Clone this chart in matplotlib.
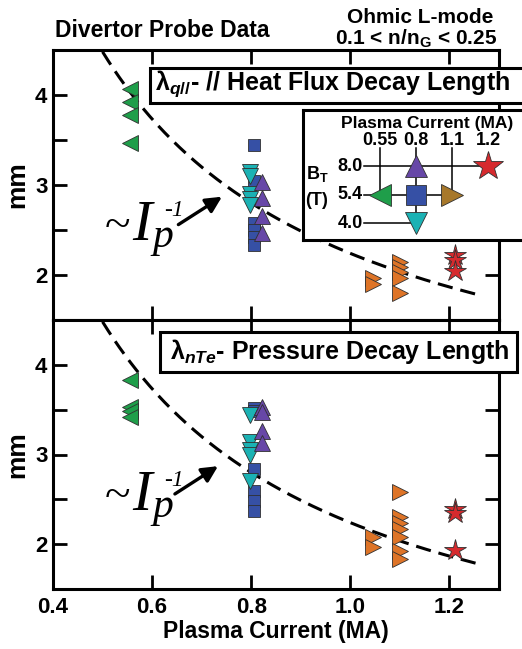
import numpy as np
import matplotlib
matplotlib.use("Agg")
import matplotlib.pyplot as plt
from matplotlib.patches import Rectangle

plt.rcParams['font.family'] = ['Liberation Sans', 'DejaVu Sans']
plt.rcParams['font.weight'] = 'bold'
plt.rcParams['axes.labelweight'] = 'bold'
plt.rcParams['mathtext.fontset'] = 'custom'
plt.rcParams['mathtext.rm'] = 'Liberation Sans:bold'
plt.rcParams['mathtext.it'] = 'Liberation Sans:italic:bold'
plt.rcParams['mathtext.bf'] = 'Liberation Sans:bold'

# plasma current of each group (MA)
ip_055 = 0.555
ip_08_sq = 0.806
ip_08_dn = 0.797
ip_08_up = 0.822
ip_105 = 1.045
ip_11 = 1.10
ip_12 = 1.212

# lambda_q// (mm)
q_green = [4.07, 3.92, 3.78, 3.47]
q_blue = [3.44, 3.04, 2.58, 2.50, 2.42, 2.33]
q_cyan = [3.15, 3.10, 2.90, 2.85, 2.78]
q_purple = [3.03, 2.86, 2.66, 2.47]
q_orange_a = [1.97, 1.90]
q_orange_b = [2.15, 2.09, 2.03, 1.97, 1.80]
q_red = [2.22, 2.17, 2.05]

# lambda_nTe (mm)
n_green = [3.83, 3.53, 3.48, 3.42]
n_blue = [3.52, 3.48, 2.84, 2.59, 2.48, 2.37]
n_cyan = [3.44, 3.14, 3.05, 3.00, 2.70]
n_purple = [3.53, 3.47, 3.26, 3.13]
n_orange_a = [2.08, 1.97]
n_orange_b = [2.58, 2.30, 2.24, 2.17, 2.08, 1.92, 1.83]
n_red = [2.39, 2.35, 1.94]

# ~1/Ip guide line
fit_coef = 2.24
fit_range = (0.50, 1.253)

# inset key
key_currents = ['0.55', '0.8', '1.1', '1.2']
key_fields = ['4.0', '5.4', '8.0']

GREEN = '#1F9E4A'
BLUE = '#3650A5'
CYAN = '#1BB2B4'
PURPLE = '#6747A7'
ORANGE = '#DE7427'
BROWN = '#A7782B'
RED = '#D62A2E'
EDGE = '#303030'

W, H = 522, 649
fig = plt.figure(figsize=(W / 100, H / 100), dpi=100)


def fx(px):
    return px / W


def fy(py):
    return 1 - py / H


ax1 = fig.add_axes([fx(53), fy(320), (499 - 53) / W, 270 / H])
ax2 = fig.add_axes([fx(53), fy(589), (499 - 53) / W, 269 / H])


def draw_panel(ax, green, blue, cyan, purple, orange_a, orange_b, red):
    xc = np.linspace(fit_range[0], fit_range[1], 200)
    ax.plot(xc, fit_coef / xc, color='k', lw=2.2, dashes=(5, 2.6), zorder=2)

    kw = dict(ls='none', mec=EDGE, mew=0.6, zorder=3)
    ax.plot([ip_055] * len(green), green, '<', ms=11, color=GREEN, **kw)
    ax.plot([ip_08_sq] * len(blue), blue, 's', ms=8, color=BLUE, **kw)
    ax.plot([ip_08_dn] * len(cyan), cyan, 'v', ms=11, color=CYAN, **kw)
    ax.plot([ip_08_up] * len(purple), purple, '^', ms=11, color=PURPLE, **kw)
    ax.plot([ip_105] * len(orange_a), orange_a, '>', ms=11, color=ORANGE, **kw)
    ax.plot([ip_11] * len(orange_b), orange_b, '>', ms=11, color=ORANGE, **kw)
    ax.plot([ip_12] * len(red), red, '*', ms=16, color=RED, **kw)

    ax.set_xlim(0.4, 1.3)
    ax.set_ylim(1.5, 4.5)
    ax.set_xticks([0.4, 0.6, 0.8, 1.0, 1.2])
    ax.set_yticks([2, 3, 4])
    ax.set_yticks([2.5, 3.5], minor=True)
    ax.tick_params(which='both', direction='in', top=True, right=True,
                   length=10, width=2, labelsize=16)
    ax.tick_params(axis='y', pad=4)
    ax.tick_params(axis='x', pad=6)
    for s in ax.spines.values():
        s.set_linewidth(2.2)
    ax.set_ylabel('mm', fontsize=19, labelpad=4)


draw_panel(ax1, q_green, q_blue, q_cyan, q_purple, q_orange_a, q_orange_b, q_red)
draw_panel(ax2, n_green, n_blue, n_cyan, n_purple, n_orange_a, n_orange_b, n_red)
ax1.tick_params(labelbottom=False)
ax2.set_xlabel('Plasma Current (MA)', fontsize=16.5, labelpad=1)

# arrows pointing at the 1/Ip curve
arrow = dict(arrowstyle='-|>', lw=2.4, color='k', mutation_scale=24,
             shrinkA=0, shrinkB=0)
ax1.annotate('', xy=(0.741, 2.87), xytext=(0.653, 2.56), arrowprops=arrow)
ax2.annotate('', xy=(0.733, 2.87), xytext=(0.646, 2.56), arrowprops=arrow)

serif = ['Liberation Serif', 'DejaVu Serif']
for base in (240, 510):
    fig.text(fx(118), fy(base - 2), '~', family=serif, style='normal',
             weight='normal', fontsize=34, ha='center', va='baseline')
    fig.text(fx(142), fy(base), 'I', family=serif, style='italic',
             weight='normal', fontsize=42, ha='center', va='baseline')
    fig.text(fx(163), fy(base + 7), 'p', family=serif, style='italic',
             weight='normal', fontsize=30, ha='center', va='baseline')
    fig.text(fx(174), fy(base - 24), '-1', family=serif, style='italic',
             weight='normal', fontsize=17, ha='center', va='baseline')

# panel titles in boxes
fig.add_artist(Rectangle((fx(150), fy(103)), fx(400), 35 / H, transform=fig.transFigure,
                         fc='white', ec='k', lw=2.2, zorder=6, clip_on=False))
fig.text(fx(155), fy(90), r'λ$_{q//}$- // Heat Flux Decay Length', fontsize=18,
         ha='left', va='baseline', zorder=7)
fig.add_artist(Rectangle((fx(160), fy(372)), fx(357), 40 / H, transform=fig.transFigure,
                         fc='white', ec='k', lw=2.2, zorder=6, clip_on=False))
fig.text(fx(170), fy(359), r'λ$_{nTe}$- Pressure Decay Length', fontsize=18,
         ha='left', va='baseline', zorder=7)

fig.text(fx(55), fy(37), 'Divertor Probe Data', fontsize=16.5, ha='left', va='baseline')
fig.text(fx(420), fy(23), 'Ohmic L-mode', fontsize=15, ha='center', va='baseline')
fig.text(fx(416), fy(45), r'0.1 < n/n$_{\mathrm{G}}$ < 0.25', fontsize=15,
         ha='center', va='baseline')

# inset key: plasma current vs toroidal field
axk = fig.add_axes([fx(303), fy(240), (526 - 303) / W, 130 / H], zorder=5)
axk.set_xlim((303 - 380) / 36, (526 - 380) / 36)
axk.set_ylim(-17 / 28.5, 113 / 28.5)
axk.set_xticks([])
axk.set_yticks([])
for s in axk.spines.values():
    s.set_linewidth(2.2)

ci = {c: i for i, c in enumerate(key_currents)}
ri = {b: i for i, b in enumerate(key_fields)}
lk = dict(color='k', lw=1.1, zorder=1)
axk.plot([-0.45, ci['1.2']], [ri['8.0']] * 2, **lk)
axk.plot([-0.45, ci['1.1']], [ri['5.4']] * 2, **lk)
axk.plot([-0.45, ci['0.8']], [ri['4.0']] * 2, **lk)
axk.plot([ci['0.55']] * 2, [2.62, ri['5.4']], **lk)
axk.plot([ci['0.8']] * 2, [2.62, ri['4.0']], **lk)
axk.plot([ci['1.1']] * 2, [2.62, ri['5.4']], **lk)

mk = dict(ls='none', mec=EDGE, mew=0.6, zorder=3)
axk.plot(ci['0.55'], ri['5.4'], '<', ms=16, color=GREEN, **mk)
axk.plot(ci['0.8'], ri['5.4'], 's', ms=14, color=BLUE, **mk)
axk.plot(ci['0.8'], ri['8.0'], '^', ms=16, color=PURPLE, **mk)
axk.plot(ci['0.8'], ri['4.0'], 'v', ms=16, color=CYAN, **mk)
axk.plot(ci['1.1'], ri['5.4'], '>', ms=16, color=BROWN, **mk)
axk.plot(ci['1.2'], ri['8.0'], '*', ms=22, color=RED, **mk)

axk.text(1.3, 3.35, 'Plasma Current (MA)', fontsize=12.5, ha='center', va='baseline')
for c in key_currents:
    axk.text(ci[c], 2.75, c, fontsize=13, ha='center', va='baseline')
for b in key_fields:
    axk.text(-0.48, ri[b], b, fontsize=13, ha='right', va='center')
axk.text(-1.75, 1.72, r'B$_{\mathrm{T}}$', fontsize=13, ha='center', va='center')
axk.text(-1.75, 0.8, '(T)', fontsize=13, ha='center', va='center')

fig.savefig('out.png', dpi=100)
